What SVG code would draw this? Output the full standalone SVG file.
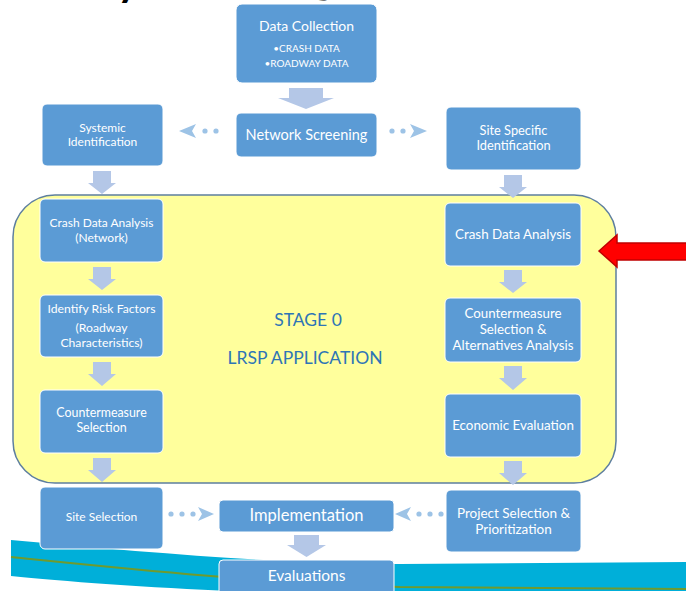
<svg xmlns="http://www.w3.org/2000/svg" width="686" height="591" viewBox="0 0 686 591">
  <defs>
    <style>
      .box { fill: #5B9BD5; stroke: #FFFFFF; stroke-width: 1; }
      .lbl { fill: #FFFFFF; font-family: Lato, "Liberation Sans", sans-serif; text-anchor: middle; }
      .blk { fill: #B4C7E7; }
      .dot { fill: #9DC3E6; }
      .head { fill: #9DC3E6; }
      .stage { fill: #2E75B6; font-family: Lato, "Liberation Sans", sans-serif; text-anchor: middle; font-size: 17.5px; }
    </style>
  </defs>

  <rect width="686" height="591" fill="#FFFFFF"/>

  <!-- title descenders peeking in at the top edge -->
  <text x="117" y="-4" font-family="Lato, 'Liberation Sans', sans-serif" font-size="42" font-weight="bold" fill="#000000">y</text>
  <text x="312" y="-7" font-family="Lato, 'Liberation Sans', sans-serif" font-size="42" font-weight="bold" fill="#000000">g</text>

  <!-- decorative wave at the bottom of the slide -->
  <path d="M11,540 C150,553 300,565 400,564 L686,562 L686,591 L235,591 C150,588 60,581 11,576 Z" fill="#00AFD9"/>
  <path d="M11,557 C120,568 250,582 400,587 L686,589" fill="none" stroke="#6F9A2E" stroke-width="2"/>

  <!-- stage container -->
  <rect id="stage0" x="13" y="195" width="603" height="288" rx="42" fill="#FFFF9C" stroke="#5E7F9F" stroke-width="1.5"/>
  <text class="stage" x="308" y="326">STAGE 0</text>
  <text class="stage" x="305" y="364">LRSP APPLICATION</text>

  <!-- connectors -->
  <g id="connectors">
    <!-- block arrows -->
    <path class="blk" d="M289,88 h34 v10 h11 L306,109 L278,98 h11 Z"/>
    <path class="blk" d="M93,171 h18 v12 h5 L102,194 L88,183 h5 Z"/>
    <path class="blk" d="M93,267 h18 v12 h5 L102,290 L88,279 h5 Z"/>
    <path class="blk" d="M93,362 h18 v12 h5 L102,386 L88,374 h5 Z"/>
    <path class="blk" d="M93,458 h18 v12 h5 L102,482 L88,470 h5 Z"/>
    <path class="blk" d="M504,175 h18 v12 h5 L513,198 L499,187 h5 Z"/>
    <path class="blk" d="M504,270 h18 v12 h5 L513,293 L499,282 h5 Z"/>
    <path class="blk" d="M504,366 h18 v12 h5 L513,390 L499,378 h5 Z"/>
    <path class="blk" d="M504,461 h18 v12 h5 L513,485 L499,473 h5 Z"/>
    <path class="blk" d="M294,535 h25 v10 h7 L306.5,557 L287,545 h7 Z"/>

    <!-- dotted arrows -->
    <circle class="dot" cx="216" cy="131" r="2.6"/>
    <circle class="dot" cx="205" cy="131" r="2.6"/>
    <path class="head" d="M179,131 L196,124 L192,131 L196,138 Z"/>

    <circle class="dot" cx="392" cy="131" r="2.6"/>
    <circle class="dot" cx="403" cy="131" r="2.6"/>
    <path class="head" d="M427,131 L410,124 L414,131 L410,138 Z"/>

    <circle class="dot" cx="171" cy="514" r="2.6"/>
    <circle class="dot" cx="182" cy="514" r="2.6"/>
    <circle class="dot" cx="193" cy="514" r="2.6"/>
    <path class="head" d="M214,514 L198,507 L202,514 L198,521 Z"/>

    <circle class="dot" cx="441" cy="514" r="2.6"/>
    <circle class="dot" cx="430" cy="514" r="2.6"/>
    <circle class="dot" cx="419" cy="514" r="2.6"/>
    <path class="head" d="M395,514 L411,507 L407,514 L411,521 Z"/>

    <!-- red pointer -->
    <path d="M599,251 L617,235 L617,243 L690,243 L690,260 L617,260 L617,267 Z" fill="#FF0000" stroke="#C00000" stroke-width="1.5"/>
  </g>

  <g id="data-collection">
    <rect class="box" x="236" y="4" width="141" height="79" rx="6"/>
    <text class="lbl" x="306.5" y="31" font-size="14">Data Collection</text>
    <text class="lbl" x="306.5" y="51.5" font-size="10">•CRASH DATA</text>
    <text class="lbl" x="306.5" y="66.5" font-size="10">•ROADWAY DATA</text>
  </g>

  <g id="network-screening">
    <rect class="box" x="236" y="113" width="141" height="44" rx="5"/>
    <text class="lbl" x="306.5" y="139.5" font-size="14.5">Network Screening</text>
  </g>

  <g id="systemic-identification">
    <rect class="box" x="42" y="104" width="121" height="62" rx="5"/>
    <text class="lbl" x="102.5" y="131.5" font-size="12">Systemic</text>
    <text class="lbl" x="102.5" y="146" font-size="12">Identification</text>
  </g>

  <g id="site-specific-identification">
    <rect class="box" x="446" y="107" width="135" height="63" rx="5"/>
    <text class="lbl" x="513.5" y="135" font-size="12.8">Site Specific</text>
    <text class="lbl" x="513.5" y="150" font-size="12.8">Identification</text>
  </g>

  <g id="crash-data-analysis-network">
    <rect class="box" x="40" y="199" width="123" height="63" rx="5"/>
    <text class="lbl" x="101.5" y="227" font-size="12">Crash Data Analysis</text>
    <text class="lbl" x="101.5" y="242" font-size="12">(Network)</text>
  </g>

  <g id="identify-risk-factors">
    <rect class="box" x="40" y="295" width="123" height="62" rx="5"/>
    <text class="lbl" x="101.5" y="313" font-size="12.2">Identify Risk Factors</text>
    <text class="lbl" x="101.5" y="332" font-size="12.2">(Roadway</text>
    <text class="lbl" x="101.5" y="347" font-size="12.2">Characteristics)</text>
  </g>

  <g id="countermeasure-selection">
    <rect class="box" x="40" y="390" width="123" height="63" rx="5"/>
    <text class="lbl" x="101.5" y="417" font-size="12.4">Countermeasure</text>
    <text class="lbl" x="101.5" y="432" font-size="12.4">Selection</text>
  </g>

  <g id="crash-data-analysis">
    <rect class="box" x="445" y="203" width="136" height="63" rx="5"/>
    <text class="lbl" x="513" y="238.5" font-size="13.4">Crash Data Analysis</text>
  </g>

  <g id="countermeasure-alternatives">
    <rect class="box" x="445" y="298" width="136" height="64" rx="5"/>
    <text class="lbl" x="513" y="317.5" font-size="13.3">Countermeasure</text>
    <text class="lbl" x="513" y="333.5" font-size="13.3">Selection &amp;</text>
    <text class="lbl" x="513" y="349.5" font-size="13.3">Alternatives Analysis</text>
  </g>

  <g id="economic-evaluation">
    <rect class="box" x="445" y="394" width="136" height="63" rx="5"/>
    <text class="lbl" x="513" y="430" font-size="13.4">Economic Evaluation</text>
  </g>

  <g id="site-selection">
    <rect class="box" x="40" y="487" width="123" height="62" rx="5"/>
    <text class="lbl" x="101.5" y="521" font-size="12">Site Selection</text>
  </g>

  <g id="implementation">
    <rect class="box" x="219" y="500" width="175" height="32" rx="4"/>
    <text class="lbl" x="306.5" y="521" font-size="16.5">Implementation</text>
  </g>

  <g id="project-selection">
    <rect class="box" x="446" y="490" width="135" height="62" rx="5"/>
    <text class="lbl" x="513.5" y="517.5" font-size="13.5">Project Selection &amp;</text>
    <text class="lbl" x="513.5" y="533.5" font-size="13.5">Prioritization</text>
  </g>

  <g id="evaluations">
    <rect class="box" x="219" y="560" width="175" height="40" rx="4"/>
    <text class="lbl" x="306.5" y="581" font-size="15.5">Evaluations</text>
  </g>
</svg>
